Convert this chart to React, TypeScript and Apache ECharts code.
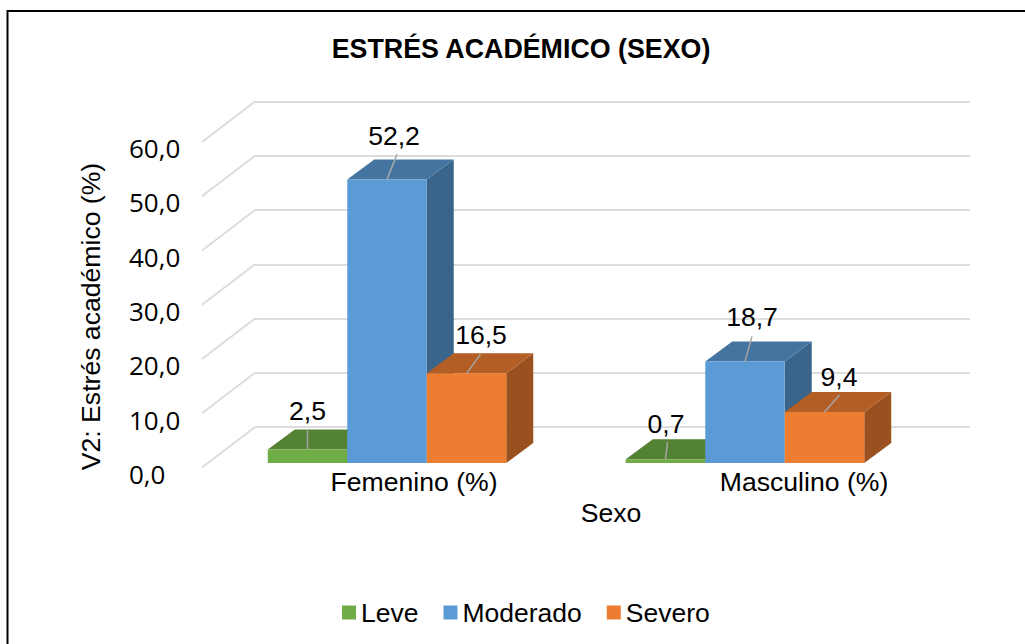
import React, { useEffect, useRef } from "react";
import * as echarts from "echarts";

const categories = ["Femenino (%)", "Masculino (%)"];
const leve = [2.5, 0.7];
const moderado = [52.2, 18.7];
const severo = [16.5, 9.4];
const tickValues = [0, 10, 20, 30, 40, 50, 60];

const SANS = '"Liberation Sans", Arial, sans-serif';
const BAR_W = 79.5;
const DEPTH_X = 27;
const DEPTH_Y = 20;
// [label dx, label dy, leader start dx, leader start dy] per series and category
const labelLayout = [
  [[0, -38, 0, -19], [0.5, -35, 2, -17]],
  [[7, -43, 10, -25], [7, -44, 7, -25]],
  [[14.5, -38, 14, -19], [14.5, -35, 15, -17]],
];

const fmt = (v: number) => v.toFixed(1).replace(".", ",");

function barSeries(
  name: string,
  values: number[],
  idx: number,
  front: string,
  top: string,
  side: string
) {
  return {
    type: "custom",
    name,
    xAxisIndex: 0,
    yAxisIndex: 0,
    silent: true,
    z: 3 + idx,
    itemStyle: { color: front },
    encode: { x: 0, y: 1 },
    data: values.map((v, i) => [i, v]),
    renderItem: (_p: any, api: any) => {
      const cat = api.value(0);
      const val = api.value(1);
      const t = api.coord([cat, val]);
      const b = api.coord([cat, 0]);
      const cx = t[0] + (idx - 1) * BAR_W;
      const x0 = cx - BAR_W / 2;
      const x1 = cx + BAR_W / 2;
      const lay = labelLayout[idx][cat];
      return {
        type: "group",
        children: [
          {
            type: "polygon",
            shape: {
              points: [
                [x1, t[1]],
                [x1 + DEPTH_X, t[1] - DEPTH_Y],
                [x1 + DEPTH_X, b[1] - DEPTH_Y],
                [x1, b[1]],
              ],
            },
            style: { fill: side },
          },
          {
            type: "polygon",
            shape: {
              points: [
                [x0, t[1]],
                [x0 + DEPTH_X, t[1] - DEPTH_Y],
                [x1 + DEPTH_X, t[1] - DEPTH_Y],
                [x1, t[1]],
              ],
            },
            style: { fill: top },
          },
          {
            type: "rect",
            shape: { x: x0, y: t[1], width: BAR_W, height: b[1] - t[1] },
            style: { fill: front },
          },
          {
            type: "line",
            shape: { x1: cx + lay[2], y1: t[1] + lay[3], x2: cx, y2: t[1] },
            style: { stroke: "#A6A6A6", lineWidth: 1.5 },
          },
          {
            type: "text",
            x: cx + lay[0],
            y: t[1] + lay[1],
            style: {
              text: fmt(val),
              fill: "#000",
              font: `26.6px ${SANS}`,
              align: "center",
              verticalAlign: "middle",
            },
          },
        ],
      };
    },
  };
}

export default function App() {
  const ref = useRef<HTMLDivElement>(null);
  useEffect(() => {
    const chart = echarts.init(ref.current!, undefined, { renderer: "svg" });
    chart.setOption({
      animation: false,
      backgroundColor: "#fff",
      title: {
        text: "ESTRÉS ACADÉMICO (SEXO)",
        left: 516,
        top: 30,
        textAlign: "center",
        textStyle: { fontFamily: SANS, fontSize: 26.8, fontWeight: "bold", color: "#000" },
      },
      legend: {
        left: 337,
        top: 594,
        icon: "rect",
        itemWidth: 14,
        itemHeight: 14,
        itemGap: 25,
        data: ["Leve", "Moderado", "Severo"],
        textStyle: { fontFamily: SANS, fontSize: 26.5, color: "#000" },
        selectedMode: false,
      },
      grid: [
        { left: 208, top: 137, width: 716, height: 326 },
        { left: 255, top: 101.5, width: 715, height: 325.5 },
        { left: 219, top: 148, width: 780, height: 326 },
      ],
      xAxis: [
        { gridIndex: 0, type: "category", data: categories, show: false },
        { gridIndex: 1, type: "value", min: 0, max: 1, show: false },
        {
          gridIndex: 2,
          type: "category",
          data: categories,
          axisLine: { show: false },
          axisTick: { show: false },
          axisLabel: {
            interval: 0,
            margin: 8,
            verticalAlign: "middle",
            fontFamily: SANS,
            fontSize: 26.6,
            color: "#000",
          },
        },
      ],
      yAxis: [
        { gridIndex: 0, type: "value", min: 0, max: 60, interval: 10, show: false },
        {
          gridIndex: 1,
          type: "value",
          min: 0,
          max: 60,
          interval: 10,
          axisLine: { show: false },
          axisTick: { show: false },
          axisLabel: { show: false },
          splitLine: { show: true, lineStyle: { color: "#DCDCDC", width: 2 } },
        },
        {
          gridIndex: 2,
          type: "value",
          min: 0,
          max: 60,
          interval: 10,
          axisLine: { show: false },
          axisTick: { show: false },
          splitLine: { show: false },
          axisLabel: {
            margin: 90,
            align: "left",
            formatter: (v: number) => fmt(v),
            fontFamily: '"Open Sans", sans-serif',
            fontSize: 26,
            color: "#000",
          },
        },
      ],
      series: [
        {
          type: "custom",
          name: "walls",
          xAxisIndex: 1,
          yAxisIndex: 1,
          silent: true,
          z: 1,
          encode: { y: 0 },
          data: tickValues.map((v) => [v]),
          renderItem: (_p: any, api: any) => {
            const c = api.coord([0, api.value(0)]);
            return {
              type: "line",
              shape: { x1: c[0], y1: c[1], x2: c[0] - 53, y2: c[1] + 40.5 },
              style: { stroke: "#DCDCDC", lineWidth: 2 },
            };
          },
        },
        barSeries("Leve", leve, 0, "#70AD47", "#548235", "#4E7A32"),
        barSeries("Moderado", moderado, 1, "#5B9BD5", "#44749F", "#3A6489"),
        barSeries("Severo", severo, 2, "#ED7D31", "#B25E24", "#9A511F"),
      ],
      graphic: [
        { type: "rect", shape: { x: 7, y: 10, width: 1018, height: 2 }, style: { fill: "#000" }, silent: true },
        { type: "rect", shape: { x: 6.5, y: 10, width: 2, height: 634 }, style: { fill: "#000" }, silent: true },
        {
          type: "text",
          x: 90.5,
          y: 316.5,
          rotation: Math.PI / 2,
          style: {
            text: "V2: Estrés académico (%)",
            font: `26.6px ${SANS}`,
            fill: "#000",
            align: "center",
            verticalAlign: "middle",
          },
          silent: true,
        },
        {
          type: "text",
          x: 611,
          y: 513,
          style: {
            text: "Sexo",
            font: `26.6px ${SANS}`,
            fill: "#000",
            align: "center",
            verticalAlign: "middle",
          },
          silent: true,
        },
      ],
    });
    return () => chart.dispose();
  }, []);
  return <div ref={ref} style={{ position: "fixed", left: 0, top: 0, width: 1025, height: 644 }} />;
}
